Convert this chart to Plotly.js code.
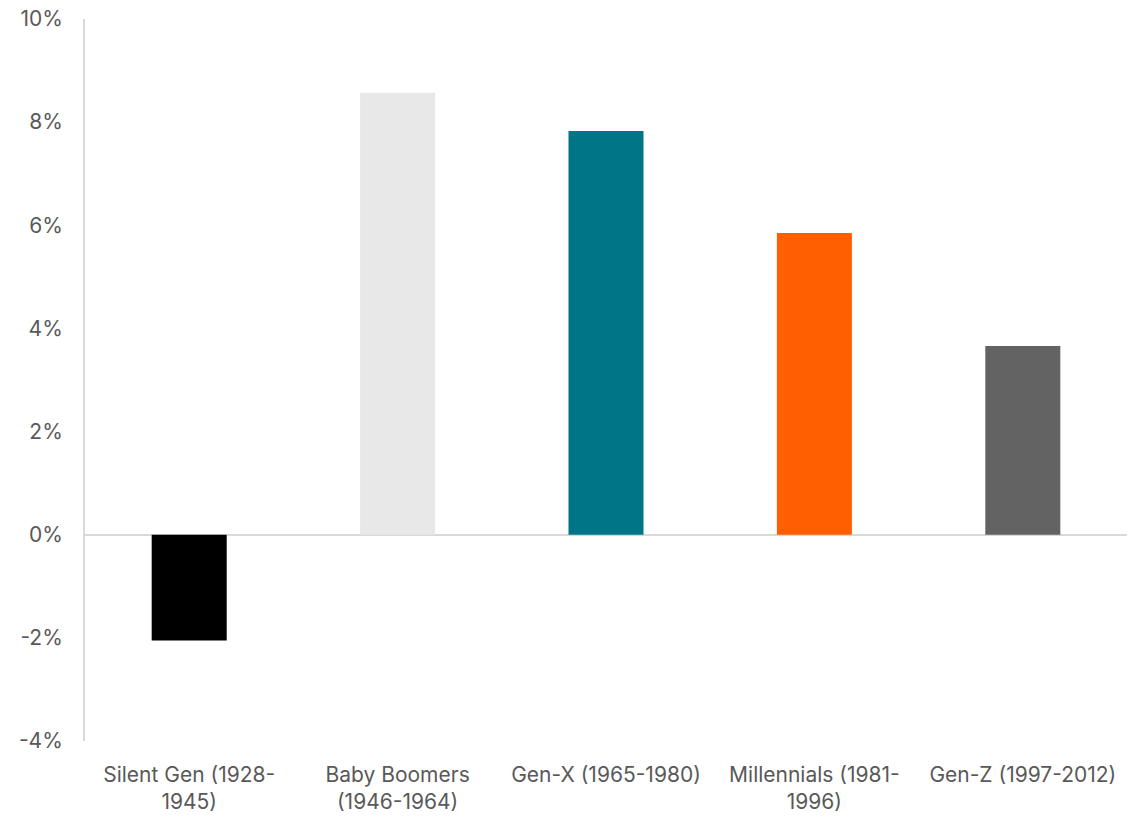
<!DOCTYPE html>
<html>
<head>
<meta charset="utf-8">
<script src="https://cdn.plot.ly/plotly-3.0.1.min.js"></script>
<style>html,body{margin:0;padding:0;background:#fff;}#chart{width:1145px;height:817px;}</style>
</head>
<body>
<div id="chart"></div>
<script>
const categories = ["Silent Gen (1928-<br>1945)", "Baby Boomers<br>(1946-1964)", "Gen-X (1965-1980)", "Millennials (1981-<br>1996)", "Gen-Z (1997-2012)"];
const values = [-2.05, 8.57, 7.83, 5.85, 3.66];
const barColors = ["#000000", "#E8E8E8", "#007588", "#FF5F00", "#636363"];
const yTickVals = [-4, -2, 0, 2, 4, 6, 8, 10];
const yTickText = ["-4%", "-2%", "0%", "2%", "4%", "6%", "8%", "10%"];

const trace = {
  type: "bar",
  x: categories,
  y: values,
  marker: {color: barColors, line: {width: 0}},
  hoverinfo: "x+y"
};

const layout = {
  width: 1145,
  height: 817,
  margin: {l: 85, r: 18, t: 19, b: 76},
  paper_bgcolor: "#ffffff",
  plot_bgcolor: "#ffffff",
  bargap: 0.64,
  showlegend: false,
  font: {family: "Inter, 'Open Sans', sans-serif", size: 21, color: "#595959"},
  xaxis: {
    type: "category",
    showgrid: false,
    showline: false,
    zeroline: false,
    ticks: "",
    ticklabelstandoff: 19,
    tickfont: {size: 21, color: "#595959"}
  },
  yaxis: {
    range: [-4, 10],
    tickvals: yTickVals,
    ticktext: yTickText,
    showgrid: false,
    showline: true,
    linecolor: "#d9d9d9",
    linewidth: 2,
    zeroline: true,
    zerolinecolor: "#d9d9d9",
    zerolinewidth: 2,
    ticks: "",
    ticklabelstandoff: 16,
    tickfont: {size: 21, color: "#595959"}
  }
};

Plotly.newPlot("chart", [trace], layout, {displayModeBar: false, staticPlot: true});
</script>
</body>
</html>
